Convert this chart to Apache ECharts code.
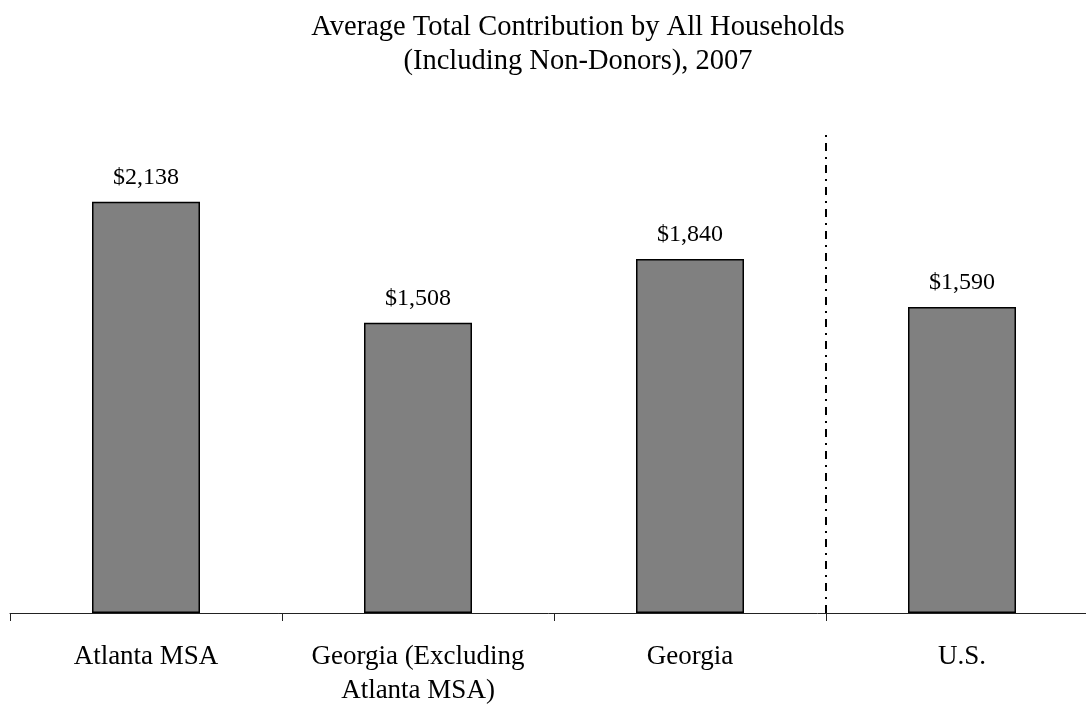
<!DOCTYPE html>
<html>
<head>
<meta charset="utf-8">
<script src="https://cdn.jsdelivr.net/npm/echarts@6/dist/echarts.min.js"></script>
<style>html,body{margin:0;padding:0;background:#fff;}#c{width:1086px;height:706px;}</style>
</head>
<body>
<div id="c"></div>
<script>
const categories = ['Atlanta MSA', 'Georgia (Excluding\nAtlanta MSA)', 'Georgia', 'U.S.'];
const values = [2138, 1508, 1840, 1590];
const dividerPosition = 3; // separator between Georgia and U.S.
const yMax = 2500;

const FONT = '"Liberation Serif", "Times New Roman", serif';
const chart = echarts.init(document.getElementById('c'));
chart.setOption({
  animation: false,
  backgroundColor: '#fff',
  title: {
    text: 'Average Total Contribution by All Households\n(Including Non-Donors), 2007',
    left: 573,
    top: 6,
    textAlign: 'center',
    textStyle: { fontFamily: FONT, fontSize: 28.5, fontWeight: 'normal', color: '#000', lineHeight: 34 }
  },
  grid: { left: 10, width: 1088, top: 132, height: 481, containLabel: false, outerBoundsMode: 'none' },
  xAxis: [{
    type: 'category',
    data: categories,
    boundaryGap: true,
    axisLine: { lineStyle: { color: '#222', width: 1 } },
    axisTick: { show: true, length: 8, lineStyle: { color: '#222' } },
    axisLabel: { fontFamily: FONT, fontSize: 27, color: '#000', lineHeight: 34, margin: 27, interval: 0 }
  }, {
    type: 'value', min: 0, max: categories.length, show: false
  }],
  yAxis: { type: 'value', min: 0, max: yMax, show: false, splitLine: { show: false } },
  series: [{
    type: 'bar',
    data: values,
    barWidth: 108,
    itemStyle: { color: '#808080', borderColor: '#000', borderWidth: 1.5 },
    label: {
      show: true, position: 'top', distance: 12,
      fontFamily: FONT, fontSize: 24, color: '#000',
      formatter: p => '$' + p.value.toLocaleString('en-US')
    }
  }, {
    type: 'line',
    xAxisIndex: 1,
    data: [[dividerPosition, 0], [dividerPosition, yMax]],
    symbol: 'none',
    lineStyle: { color: '#000', width: 2, type: [8, 6, 2, 6] },
    silent: true
  }]
});
</script>
</body>
</html>
